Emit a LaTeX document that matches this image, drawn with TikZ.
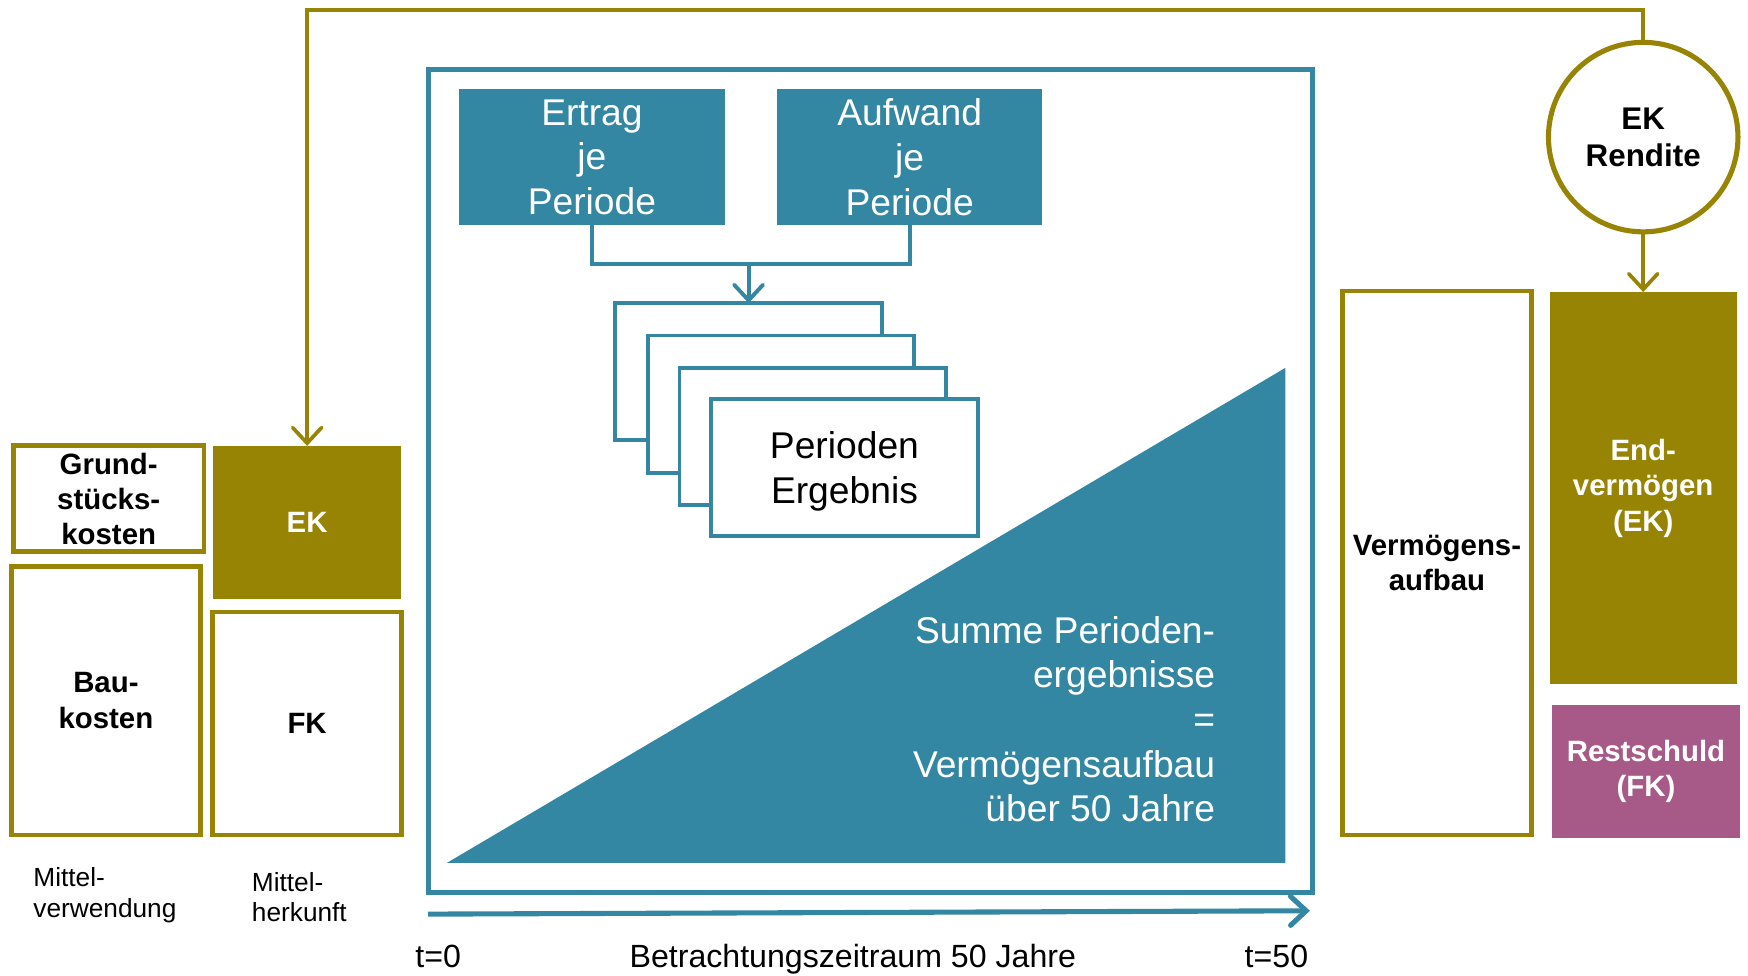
\documentclass[tikz,border=0pt]{standalone}
\usepackage{fontspec}
\setmainfont{Liberation Sans}
\usetikzlibrary{arrows.meta,positioning,calc}
\definecolor{bfolive}{HTML}{978404}
\definecolor{bfteal} {HTML}{3387A2}
\definecolor{bfplum} {HTML}{A75A87}

\begin{document}
\begin{tikzpicture}[
  x=0.1mm, y=-0.1mm,
  every node/.style={inner sep=0pt, outer sep=0pt},
  olivebox/.style={draw=bfolive, fill=white, line width=1.25pt, align=center,
                   font=\bfseries\fontsize{7.5}{9}\selectfont},
  olivefill/.style={fill=bfolive, text=white, align=center,
                    font=\bfseries\fontsize{7.5}{9}\selectfont},
  plumfill/.style={fill=bfplum, text=white, align=center,
                   font=\bfseries\fontsize{7.5}{9}\selectfont},
  tealbox/.style={fill=bfteal, text=white, align=center,
                  minimum width=23.8mm, minimum height=12.2mm,
                  font=\fontsize{9.5}{11.4}\selectfont},
  stackbox/.style={draw=bfteal, fill=white, line width=1pt, align=center,
                   minimum width=23.9mm, minimum height=12.3mm,
                   font=\fontsize{9.5}{11.4}\selectfont},
  caption/.style={align=left, font=\fontsize{6.7}{7.7}\selectfont},
  axislabel/.style={font=\fontsize{8.2}{9.8}\selectfont},
  link/.style={draw=bfteal, line width=1pt},
  feed/.style={draw=bfolive, line width=0.95pt},
  tip/.style={-{Straight Barb[length=1.4mm, width=2.6mm, line cap=round]}},
]
  \useasboundingbox (0,0) rectangle (1568,875);

  % Mittelverwendung / Mittelherkunft at t=0
  \node[olivebox, minimum width=17.1mm, minimum height=9.5mm] (grund) at (97.5,447.5) {Grund-\\stücks-\\kosten};
  \node[olivebox, minimum width=17mm, minimum height=24.1mm] (bau) at (95,628.5) {Bau-\\kosten};
  \node[olivefill, minimum width=16.9mm, minimum height=13.7mm] (ek) at (275.5,468.5) {EK};
  \node[olivebox, minimum width=16.9mm, minimum height=20mm] (fk) at (275.5,649) {FK};
  \node[caption, anchor=west] (mverw) at (30,803) {Mittel-\\verwendung};
  \node[caption, anchor=west] (mherk) at (226,805) {Mittel-\\herkunft};

  % Betrachtungszeitraum
  \node[draw=bfteal, line width=1.3pt, minimum width=79.3mm, minimum height=73.9mm] (frame) at (780.5,431.5) {};
  \node[tealbox] (ertrag) at (531,141) {Ertrag\\je\\Periode};
  \node[tealbox] (aufwand) at (816,141) {Aufwand\\je\\Periode};

  \node[stackbox] (box1) at (671.5,333.5) {};
  \node[stackbox] (box2) at (700.5,362.5) {};
  \node[stackbox] (box3) at (729,391.5) {};
  \node[stackbox] (box4) at (757.5,419.5) {};
  \node[align=center, font=\fontsize{9.5}{11.4}\selectfont] (ergebnis) at (757.5,423) {Perioden\\Ergebnis};

  \coordinate (merge) at (671.5,237);
  \draw[link] (ertrag.south) -- ++(0,35) -| (aufwand.south);
  \draw[link, tip] (merge) -- (box1.north);

  \fill[bfteal] (401,774) -- (1153,774) -- (1153,330) -- cycle;
  \node[anchor=east, align=right, text=white, font=\fontsize{9.5}{11.4}\selectfont] (summe) at (1090,645)
    {Summe Perioden-\\ergebnisse\\=\\Vermögensaufbau\\über 50 Jahre};

  % Zeitachse
  \coordinate (t0) at (384,820);
  \coordinate (t50) at (1175,817);
  \draw[link, line width=1.3pt, tip] (t0) -- (t50);
  \node[axislabel] (lab0) at (393,858) {t=0};
  \node[axislabel] (labmid) at (765,860) {Betrachtungszeitraum 50 Jahre};
  \node[axislabel] (lab50) at (1145,858) {t=50};

  % Vermögensaufbau at t=50
  \node[olivebox, minimum width=17mm, minimum height=48.8mm] (vaufbau) at (1289,505) {Vermögens-\\aufbau};
  \node[olivefill, minimum width=16.8mm, minimum height=35.2mm] (endv) at (1474,438) {End-\\vermögen\\(EK)};
  \node[plumfill, minimum width=16.9mm, minimum height=12mm] (rest) at (1476.5,692) {Restschuld\\(FK)};
  \node[circle, draw=bfolive, fill=white, line width=1.3pt, minimum size=17mm, align=center,
        font=\bfseries\fontsize{8}{9.5}\selectfont] (rendite) at (1474,123) {EK\\Rendite};

  % EK-Rendite loop
  \draw[feed, tip] (rendite.north) -- ++(0,-29) -| (ek.north);
  \draw[feed, tip] (rendite.south) -- (endv.north);
\end{tikzpicture}
\end{document}
